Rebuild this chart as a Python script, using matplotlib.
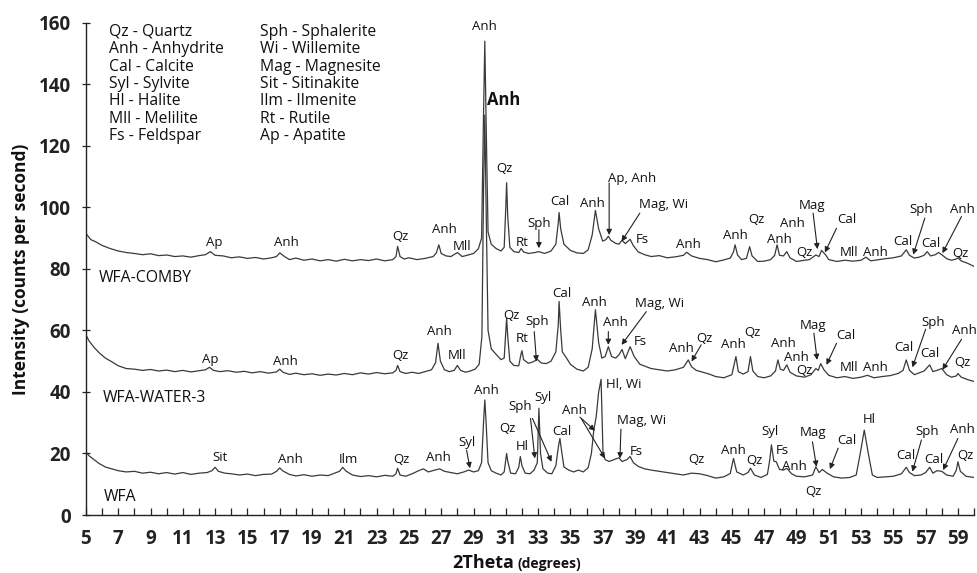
import numpy as np
import matplotlib
matplotlib.use('Agg')
import matplotlib.pyplot as plt

plt.rcParams['font.family'] = ['Open Sans', 'DejaVu Sans']

# ── Diffractogram values (2theta, counts per second) ──
comby = [
    (5.0, 91.5), (5.3, 89.5), (5.6, 88.8), (6.0, 87.6), (6.5, 86.6), (7.0, 85.8),
    (7.5, 85.3), (8.0, 85.0), (8.5, 84.6), (9.0, 84.9), (9.5, 84.3), (10.0, 84.5),
    (10.5, 84.0), (11.0, 84.2), (11.5, 83.8), (12.0, 84.3), (12.4, 84.6), (12.7, 85.6),
    (13.0, 84.4), (13.5, 84.2), (14.0, 83.6), (14.5, 83.9), (15.0, 83.4), (15.5, 83.7),
    (16.0, 83.2), (16.5, 83.6), (16.8, 84.0), (17.0, 85.2), (17.3, 84.0), (17.6, 83.0),
    (18.0, 83.5), (18.5, 82.8), (19.0, 83.2), (19.5, 82.6), (20.0, 83.0), (20.5, 82.5),
    (21.0, 83.1), (21.5, 82.6), (22.0, 83.0), (22.5, 82.7), (23.0, 83.2), (23.5, 82.6),
    (24.0, 83.0), (24.2, 84.0), (24.3, 87.3), (24.45, 84.0), (24.7, 83.2), (25.0, 83.6),
    (25.5, 83.0), (26.0, 83.4), (26.5, 84.0), (26.7, 85.2), (26.85, 87.8), (27.0, 85.0),
    (27.3, 84.2), (27.6, 84.0), (28.0, 85.3), (28.3, 84.0), (28.6, 84.4), (29.0, 85.0),
    (29.3, 86.5), (29.5, 90.0), (29.62, 130.0), (29.7, 154.0), (29.78, 128.0), (29.9, 92.0),
    (30.1, 88.0), (30.4, 86.6), (30.7, 85.8), (30.9, 87.0), (31.0, 100.0), (31.05, 108.0),
    (31.12, 97.0), (31.25, 87.0), (31.5, 85.6), (31.8, 85.3), (31.95, 86.6), (32.1, 85.5),
    (32.4, 85.0), (32.8, 85.3), (33.05, 85.6), (33.4, 85.0), (33.8, 85.8), (34.1, 88.0),
    (34.25, 95.0), (34.3, 98.3), (34.4, 93.0), (34.6, 88.0), (35.0, 86.0), (35.4, 85.2),
    (35.8, 85.0), (36.1, 86.2), (36.35, 91.0), (36.55, 99.0), (36.75, 93.0), (37.0, 89.0),
    (37.2, 89.5), (37.35, 90.6), (37.5, 89.3), (37.8, 88.3), (38.0, 88.0), (38.2, 89.3),
    (38.4, 88.2), (38.7, 89.6), (38.9, 87.5), (39.2, 85.5), (39.6, 84.6), (40.0, 84.0),
    (40.5, 84.3), (41.0, 83.6), (41.5, 83.9), (42.0, 84.4), (42.2, 85.4), (42.5, 84.2),
    (43.0, 83.4), (43.5, 83.0), (44.0, 82.3), (44.5, 82.9), (44.9, 83.5), (45.1, 85.5),
    (45.2, 87.8), (45.35, 84.5), (45.6, 83.0), (45.9, 83.4), (46.1, 87.2), (46.25, 84.2),
    (46.6, 82.4), (47.0, 82.5), (47.4, 83.0), (47.65, 84.4), (47.8, 87.8), (47.95, 84.4),
    (48.2, 84.2), (48.4, 85.6), (48.6, 83.6), (49.0, 82.4), (49.5, 82.8), (49.8, 83.0),
    (50.2, 84.5), (50.4, 84.0), (50.55, 86.0), (50.8, 84.6), (51.0, 83.0), (51.5, 82.4),
    (52.0, 82.8), (52.5, 82.5), (53.0, 82.8), (53.3, 83.8), (53.6, 82.6), (54.0, 82.9),
    (54.5, 83.3), (55.0, 83.6), (55.5, 84.2), (55.8, 86.2), (56.0, 84.4), (56.3, 83.5),
    (56.6, 83.8), (56.9, 84.4), (57.1, 85.6), (57.3, 84.2), (57.6, 84.6), (57.8, 85.3),
    (58.0, 84.6), (58.3, 83.3), (58.6, 82.8), (58.9, 83.2), (59.0, 83.6), (59.2, 82.6),
    (59.6, 81.8), (60.0, 80.8),
]

water3 = [
    (5.0, 58.5), (5.2, 56.5), (5.5, 54.5), (5.8, 52.8), (6.2, 51.0), (6.6, 49.8),
    (7.0, 48.5), (7.5, 47.6), (8.0, 47.4), (8.5, 47.0), (9.0, 47.3), (9.5, 46.8),
    (10.0, 47.1), (10.5, 46.6), (11.0, 47.0), (11.5, 46.5), (12.0, 46.9), (12.4, 47.2),
    (12.65, 48.0), (12.9, 47.0), (13.3, 46.6), (13.8, 46.9), (14.3, 46.4), (14.8, 46.7),
    (15.3, 46.2), (15.8, 46.6), (16.3, 46.1), (16.8, 46.5), (17.0, 47.4), (17.2, 46.4),
    (17.6, 45.7), (18.0, 46.1), (18.5, 45.6), (19.0, 45.9), (19.5, 45.4), (20.0, 45.8),
    (20.5, 45.5), (21.0, 46.0), (21.5, 45.6), (22.0, 46.2), (22.5, 45.8), (23.0, 46.3),
    (23.5, 45.9), (24.0, 46.2), (24.2, 47.0), (24.3, 48.6), (24.45, 46.6), (24.8, 46.0),
    (25.2, 46.4), (25.6, 46.0), (26.0, 46.6), (26.4, 47.2), (26.65, 49.5), (26.8, 55.8),
    (26.95, 50.0), (27.2, 47.2), (27.5, 46.6), (27.8, 47.0), (28.0, 48.6), (28.2, 47.0),
    (28.5, 46.4), (28.8, 46.8), (29.1, 47.4), (29.35, 49.0), (29.52, 58.0), (29.62, 105.0),
    (29.7, 130.0), (29.78, 100.0), (29.9, 60.0), (30.1, 54.0), (30.4, 52.2), (30.7, 50.5),
    (30.9, 51.0), (31.0, 60.0), (31.05, 64.0), (31.12, 58.0), (31.25, 50.0), (31.5, 48.6),
    (31.8, 48.5), (31.95, 52.5), (32.0, 53.4), (32.1, 50.5), (32.4, 49.3), (32.7, 49.8),
    (32.95, 50.6), (33.2, 49.4), (33.5, 49.2), (33.8, 50.0), (34.1, 53.0), (34.25, 62.0),
    (34.3, 69.4), (34.4, 60.0), (34.5, 53.0), (34.7, 51.5), (35.0, 49.0), (35.4, 47.4),
    (35.8, 46.8), (36.1, 48.0), (36.35, 54.0), (36.55, 66.7), (36.75, 56.0), (36.95, 51.0),
    (37.15, 51.5), (37.35, 54.7), (37.55, 51.5), (37.8, 51.0), (38.0, 52.0), (38.2, 53.8),
    (38.4, 50.8), (38.7, 54.7), (38.95, 51.5), (39.3, 49.0), (39.7, 48.2), (40.0, 47.6),
    (40.5, 47.2), (41.0, 46.8), (41.5, 47.2), (42.0, 48.0), (42.3, 50.4), (42.5, 48.2),
    (42.8, 47.0), (43.2, 46.4), (43.6, 45.8), (44.0, 45.0), (44.5, 44.6), (45.0, 45.6),
    (45.1, 48.0), (45.25, 51.5), (45.4, 46.6), (45.7, 45.8), (46.0, 46.6), (46.15, 51.5),
    (46.3, 46.8), (46.6, 45.0), (47.0, 44.6), (47.4, 45.2), (47.7, 46.8), (47.85, 50.4),
    (48.0, 47.4), (48.2, 47.0), (48.4, 48.8), (48.6, 46.4), (49.0, 45.2), (49.5, 44.8),
    (49.9, 45.6), (50.2, 47.6), (50.35, 47.0), (50.5, 49.2), (50.7, 47.2), (51.0, 45.4),
    (51.5, 44.6), (52.0, 45.0), (52.5, 44.4), (53.0, 44.8), (53.4, 45.4), (53.8, 44.6),
    (54.3, 45.0), (54.8, 45.3), (55.3, 46.0), (55.6, 47.0), (55.8, 50.4), (56.0, 47.0),
    (56.3, 45.6), (56.6, 46.2), (56.9, 46.8), (57.25, 48.8), (57.45, 46.6), (57.7, 47.0),
    (58.0, 47.6), (58.3, 45.6), (58.6, 44.8), (58.9, 45.2), (59.0, 46.0), (59.2, 44.8),
    (59.6, 44.0), (60.0, 43.4),
]

wfa = [
    (5.0, 20.5), (5.2, 19.2), (5.5, 18.0), (5.8, 16.8), (6.2, 15.6), (6.6, 15.0),
    (7.0, 14.4), (7.5, 14.0), (8.0, 14.2), (8.5, 13.6), (9.0, 13.9), (9.5, 13.4),
    (10.0, 13.8), (10.5, 13.3), (11.0, 13.8), (11.5, 13.2), (12.0, 13.6), (12.5, 13.8),
    (12.8, 14.4), (13.0, 15.5), (13.2, 14.2), (13.6, 13.6), (14.0, 13.4), (14.5, 13.0),
    (15.0, 13.3), (15.5, 12.8), (16.0, 13.2), (16.5, 13.3), (16.8, 14.2), (17.0, 15.3),
    (17.2, 14.3), (17.6, 13.2), (18.0, 12.7), (18.5, 13.1), (19.0, 12.6), (19.5, 13.0),
    (20.0, 12.8), (20.4, 13.6), (20.7, 14.2), (20.9, 15.5), (21.1, 14.3), (21.5, 13.0),
    (22.0, 12.5), (22.5, 12.8), (23.0, 12.4), (23.5, 12.9), (24.0, 12.6), (24.2, 13.4),
    (24.3, 15.2), (24.45, 13.0), (24.8, 12.6), (25.2, 13.4), (25.6, 14.4), (25.9, 15.0),
    (26.2, 14.0), (26.6, 14.6), (26.9, 15.0), (27.2, 14.2), (27.6, 13.8), (28.0, 13.4),
    (28.4, 14.0), (28.7, 14.6), (29.0, 14.0), (29.3, 14.4), (29.5, 17.0), (29.62, 30.0),
    (29.7, 37.4), (29.78, 30.0), (29.9, 17.0), (30.1, 14.4), (30.4, 13.6), (30.7, 13.0),
    (30.9, 14.0), (31.0, 18.0), (31.05, 20.0), (31.12, 17.5), (31.3, 13.6), (31.6, 13.4),
    (31.8, 15.5), (31.9, 19.0), (32.0, 16.0), (32.2, 13.6), (32.5, 13.4), (32.75, 14.6),
    (32.95, 17.0), (33.05, 34.7), (33.15, 20.0), (33.3, 15.0), (33.6, 13.6), (33.85, 13.4),
    (34.1, 16.0), (34.25, 22.0), (34.35, 24.9), (34.45, 21.0), (34.6, 15.6), (34.9, 14.6),
    (35.2, 14.0), (35.5, 14.6), (35.8, 14.0), (36.1, 15.4), (36.3, 20.0), (36.45, 27.6),
    (36.6, 32.0), (36.75, 40.0), (36.9, 44.1), (37.02, 20.0), (37.15, 18.0), (37.4, 17.4),
    (37.7, 18.0), (38.0, 18.6), (38.2, 17.4), (38.5, 18.0), (38.7, 19.0), (38.9, 17.0),
    (39.2, 15.8), (39.6, 15.0), (40.0, 14.6), (40.5, 14.2), (41.0, 13.8), (41.5, 13.4),
    (42.0, 13.0), (42.5, 13.6), (43.0, 13.4), (43.5, 12.8), (44.0, 12.0), (44.5, 12.4),
    (44.9, 13.5), (45.1, 18.4), (45.3, 14.0), (45.7, 13.0), (46.0, 13.8), (46.15, 15.2),
    (46.4, 13.0), (46.8, 12.2), (47.2, 13.2), (47.35, 18.0), (47.45, 22.8), (47.6, 17.5),
    (47.75, 17.3), (47.95, 14.8), (48.2, 14.6), (48.4, 15.2), (48.7, 13.4), (49.0, 12.6),
    (49.5, 12.4), (50.0, 13.0), (50.2, 15.7), (50.4, 13.8), (50.6, 14.8), (50.9, 13.6),
    (51.3, 12.4), (51.8, 12.0), (52.3, 12.2), (52.7, 13.0), (52.95, 20.0), (53.2, 27.6),
    (53.45, 20.0), (53.7, 13.0), (54.0, 12.2), (54.5, 12.4), (55.0, 12.6), (55.5, 13.4),
    (55.8, 15.5), (56.0, 13.8), (56.3, 12.8), (56.7, 13.0), (57.0, 13.8), (57.25, 15.5),
    (57.45, 13.6), (57.7, 14.4), (58.0, 14.2), (58.3, 13.0), (58.7, 12.6), (58.9, 14.6),
    (59.0, 17.3), (59.15, 14.2), (59.5, 12.6), (60.0, 12.2),
]

sample_names = ['WFA-COMBY', 'WFA-WATER-3', 'WFA']

legend_col1 = ['Qz - Quartz', 'Anh - Anhydrite', 'Cal - Calcite', 'Syl - Sylvite',
               'Hl - Halite', 'Mll - Melilite', 'Fs - Feldspar']
legend_col2 = ['Sph - Sphalerite', 'Wi - Willemite', 'Mag - Magnesite',
               'Sit - Sitinakite', 'Ilm - Ilmenite', 'Rt - Rutile', 'Ap - Apatite']

# ── Peak labels: (text, 2theta, intensity) ──
comby_labels = [
    ('Ap', 12.95, 88.6), ('Anh', 17.4, 88.6), ('Qz', 24.45, 90.5), ('Anh', 27.2, 92.9),
    ('Mll', 28.3, 87.3), ('Anh', 29.7, 158.8), ('Qz', 30.9, 112.7), ('Rt', 32.0, 88.6),
    ('Sph', 33.05, 94.8), ('Cal', 34.35, 101.9), ('Anh', 36.37, 101.1),
    ('Ap, Anh', 38.8, 109.5), ('Mag, Wi', 40.75, 100.8), ('Fs', 39.47, 89.4),
    ('Anh', 42.3, 88.0), ('Anh', 45.19, 91.0), ('Qz', 46.5, 95.9), ('Anh', 48.76, 94.8),
    ('Anh', 47.97, 89.6), ('Qz', 49.5, 85.3), ('Mag', 49.97, 100.5), ('Cal', 52.1, 95.9),
    ('Mll', 52.26, 85.3), ('Anh', 53.9, 85.3), ('Cal', 55.57, 88.9), ('Sph', 56.74, 99.2),
    ('Cal', 57.3, 88.4), ('Anh', 59.3, 99.4), ('Qz', 59.16, 85.1),
]
comby_arrows = [
    (33.05, 92.7, 33.05, 86.7), (37.4, 107.9, 37.4, 91.0), (39.3, 98.1, 38.17, 88.9),
    (50.03, 98.1, 50.3, 86.4), (51.48, 93.2, 50.76, 85.3), (56.95, 96.5, 56.23, 84.6),
    (59.22, 97.0, 58.04, 85.1),
]

water3_labels = [
    ('Ap', 12.72, 50.4), ('Anh', 17.38, 49.9), ('Qz', 24.44, 51.7), ('Anh', 26.88, 59.8),
    ('Mll', 28.0, 52.0), ('Qz', 31.35, 65.0), ('Sph', 32.95, 62.9), ('Rt', 32.0, 57.5),
    ('Cal', 34.45, 72.1), ('Anh', 36.5, 69.0), ('Anh', 37.8, 62.5), ('Mag, Wi', 40.54, 68.8),
    ('Fs', 39.3, 56.4), ('Anh', 41.9, 54.2), ('Qz', 43.3, 57.5), ('Anh', 45.1, 55.3),
    ('Qz', 46.3, 59.3), ('Anh', 48.2, 55.8), ('Anh', 49.0, 51.3), ('Qz', 49.5, 46.9),
    ('Mag', 50.0, 61.5), ('Cal', 52.06, 58.5), ('Mll', 52.26, 48.0), ('Anh', 53.9, 48.0),
    ('Cal', 55.65, 54.5), ('Sph', 57.46, 62.5), ('Cal', 57.26, 52.4), ('Anh', 59.4, 59.9),
    ('Qz', 59.3, 49.5),
]
water3_arrows = [
    (32.76, 59.6, 32.9, 49.9), (37.35, 59.6, 37.35, 55.3), (39.7, 66.1, 38.17, 55.3),
    (43.1, 55.3, 42.5, 49.9), (50.08, 59.1, 50.28, 50.4), (51.48, 55.8, 50.86, 48.8),
    (57.0, 60.4, 56.18, 48.0), (59.22, 57.1, 58.04, 47.2),
]

wfa_labels = [
    ('Sit', 13.3, 18.8), ('Anh', 17.67, 18.1), ('Ilm', 21.24, 18.1), ('Qz', 24.54, 17.9),
    ('Anh', 26.8, 18.8), ('Syl', 28.57, 23.5), ('Anh', 29.8, 40.4), ('Qz', 31.09, 28.2),
    ('Hl', 32.04, 22.4), ('Sph', 31.87, 35.4), ('Syl', 33.3, 38.3), ('Cal', 34.45, 27.1),
    ('Anh', 35.28, 34.1), ('Hl, Wi', 38.27, 42.3), ('Mag, Wi', 39.4, 30.6), ('Fs', 39.1, 20.8),
    ('Qz', 42.8, 17.9), ('Anh', 45.12, 21.1), ('Qz', 46.42, 17.7), ('Syl', 47.39, 27.1),
    ('Fs', 48.13, 20.9), ('Anh', 48.9, 15.9), ('Qz', 50.03, 7.6), ('Mag', 50.03, 26.8),
    ('Cal', 52.1, 24.2), ('Hl', 53.5, 31.1), ('Cal', 55.77, 19.2), ('Sph', 57.1, 27.1),
    ('Cal', 57.5, 17.9), ('Anh', 59.28, 27.9), ('Qz', 59.49, 19.5),
]
wfa_arrows = [
    (28.57, 21.1, 28.78, 15.2), (32.53, 31.4, 32.8, 18.4), (32.65, 31.4, 33.83, 17.3),
    (35.59, 31.8, 36.52, 27.4), (35.7, 31.1, 37.14, 18.4), (38.13, 27.9, 38.07, 18.4),
    (49.99, 23.8, 50.24, 15.7), (51.58, 21.7, 51.07, 14.9), (56.74, 24.4, 56.18, 14.1),
    (59.0, 24.9, 58.08, 14.6),
]

LINE_COLOR = '#3a3a3a'
TEXT_COLOR = '#111111'


def main():
    fig = plt.figure(figsize=(9.78, 5.73), dpi=100)
    ax = fig.add_axes([0.0879, 0.1012, 0.9081, 0.8592])

    for pts in (comby, water3, wfa):
        arr = np.array(pts)
        ax.plot(arr[:, 0], arr[:, 1], color=LINE_COLOR, lw=0.9)

    ax.set_xlim(5, 60)
    ax.set_ylim(0, 160)
    ax.spines['top'].set_visible(False)
    ax.spines['right'].set_visible(False)
    for s in ('left', 'bottom'):
        ax.spines[s].set_linewidth(1.0)
        ax.spines[s].set_color('#222222')

    ax.set_xticks(np.arange(5, 60, 2))
    ax.set_xticks(np.arange(6, 61, 2), minor=True)
    ax.set_yticks(np.arange(0, 161, 20))
    ax.tick_params(axis='x', which='both', direction='in', length=5, width=0.9,
                   pad=10, labelsize=13.5, colors='#222222')
    ax.tick_params(axis='y', direction='inout', length=6, width=0.9,
                   pad=8, labelsize=13.5, colors='#222222')
    for lbl in ax.get_xticklabels() + ax.get_yticklabels():
        lbl.set_fontweight('bold')

    # legend block
    for i, (a, b) in enumerate(zip(legend_col1, legend_col2)):
        yy = 157 - i * 5.65
        ax.text(6.42, yy, a, fontsize=11.3, va='center', ha='left',
                color=TEXT_COLOR)
        ax.text(15.77, yy, b, fontsize=11.3, va='center', ha='left',
                color=TEXT_COLOR)

    # sample names
    for name, yy, xx in zip(sample_names, (77, 38, 5.9), (5.8, 6.05, 6.1)):
        ax.text(xx, yy, name, fontsize=11.3, va='center', ha='left',
                color=TEXT_COLOR)

    # peak labels and arrows
    for labels in (comby_labels, water3_labels, wfa_labels):
        for txt, xx, yy in labels:
            ax.text(xx, yy, txt, fontsize=9.5, ha='center', va='center',
                    color=TEXT_COLOR)
    ax.text(30.84, 135, 'Anh', fontsize=12, ha='center', va='center',
            fontweight='bold', color=TEXT_COLOR)

    for arrows in (comby_arrows, water3_arrows, wfa_arrows):
        for x0, y0, x1, y1 in arrows:
            ax.annotate('', xy=(x1, y1), xytext=(x0, y0),
                        arrowprops=dict(arrowstyle='-|>', color='#222222', lw=0.8,
                                        mutation_scale=8, shrinkA=0, shrinkB=0))

    # axis titles
    fig.text(21 / 978, 1 - 269 / 573, 'Intensity (counts per second)', rotation=90,
             ha='center', va='center', fontsize=12.5, fontweight='bold',
             color=TEXT_COLOR)
    fig.text(514 / 978, 1 - 568 / 573, '2Theta', ha='right', va='baseline',
             fontsize=13, fontweight='bold', color=TEXT_COLOR)
    fig.text(518 / 978, 1 - 568 / 573, '(degrees)', ha='left', va='baseline',
             fontsize=10, fontweight='bold', color=TEXT_COLOR)

    fig.savefig('out.png', dpi=100)
    plt.close(fig)
    return 0


if __name__ == '__main__':
    main()
